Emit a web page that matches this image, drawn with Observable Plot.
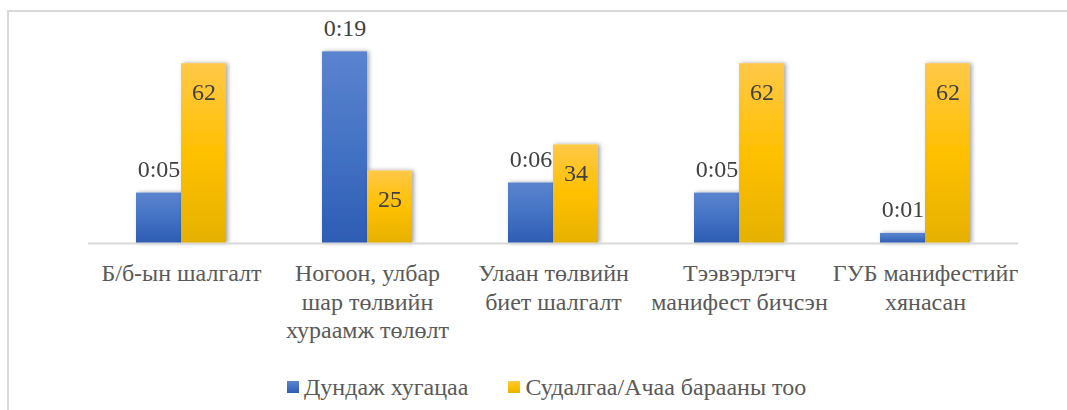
<!DOCTYPE html>
<html>
<head>
<meta charset="utf-8">
<script src="https://cdn.jsdelivr.net/npm/d3@7"></script>
<script src="https://cdn.jsdelivr.net/npm/@observablehq/plot@0.6"></script>
<style>
  html, body { margin: 0; padding: 0; background: #fff; overflow: hidden; }
  #wrap { position: relative; width: 1067px; height: 410px; background: #fff; }
  #frame { position: absolute; left: 7px; top: 10px; right: 0; bottom: -10px;
           border-top: 2px solid #d9d9d9; border-left: 2px solid #d9d9d9; pointer-events: none; }
  #chart { position: relative; height: 360px; }
  #legend { position: relative; height: 50px; box-sizing: border-box; padding-top: 4px; padding-left: 287px;
            display: flex; font-family: "Liberation Serif", Tinos, "Times New Roman", "DejaVu Serif", serif; font-size: 24px;
            line-height: 24px; color: #595959; }
  .item { display: flex; align-items: center; white-space: nowrap; }
  .sw { width: 12px; height: 12px; margin-right: 5px; }
</style>
</head>
<body>
<div id="wrap">
  <div id="frame"></div>
  <div id="chart"></div>
  <div id="legend"></div>
</div>
<script>
// ---- data ----
const categories = [
  "Б/б-ын шалгалт",
  "Ногоон, улбар шар төлвийн хураамж төлөлт",
  "Улаан төлвийн биет шалгалт",
  "Тээвэрлэгч манифест бичсэн",
  "ГУБ манифестийг хянасан"
];
const tickLabels = [
  "Б/б-ын шалгалт",
  "Ногоон, улбар\nшар төлвийн\nхураамж төлөлт",
  "Улаан төлвийн\nбиет шалгалт",
  "Тээвэрлэгч\nманифест бичсэн",
  "ГУБ манифестийг\nхянасан"
];
const seriesNames = ["Дундаж хугацаа", "Судалгаа/Ачаа барааны тоо"];
const avgTimeMinutes = [5, 19, 6, 5, 1];
const avgTimeLabels = ["0:05", "0:19", "0:06", "0:05", "0:01"];
const counts = [62, 25, 34, 62, 62];
const countLabels = ["62", "25", "34", "62", "62"];
const timeAxisMax = 23;   // secondary axis maximum (minutes)
const countAxisMax = 80;  // primary axis maximum

// dual axis: each series normalised to its own axis maximum
const timeRows = categories.map((c, i) => ({cat: c, series: seriesNames[0], norm: avgTimeMinutes[i] / timeAxisMax, label: avgTimeLabels[i]}));
const countRows = categories.map((c, i) => ({cat: c, series: seriesNames[1], norm: counts[i] / countAxisMax, label: countLabels[i]}));

const FONT = '"Liberation Serif", Tinos, "Times New Roman", "DejaVu Serif", serif';

const chart = Plot.plot({
  width: 1067,
  height: 360,
  marginTop: 11,
  marginBottom: 117,
  marginLeft: 88,
  marginRight: 49,
  style: {fontFamily: FONT, fontSize: "24px", color: "#595959", background: "transparent"},
  fx: {domain: categories, padding: 0, round: false, label: null},
  x: {domain: seriesNames, paddingInner: 0, paddingOuter: 1.0667, round: false, axis: null},
  y: {domain: [0, 1], axis: null},
  marks: [
    Plot.barY(timeRows, {fx: "cat", x: "series", y: "norm", fill: "url(#gradBlue)"}),
    Plot.barY(countRows, {fx: "cat", x: "series", y: "norm", fill: "url(#gradGold)"}),
    Plot.ruleY([0], {stroke: "#d9d9d9", strokeWidth: 2}),
    Plot.text(timeRows, {fx: "cat", x: "series", y: "norm", text: "label", lineAnchor: "top", dy: -33, fill: "#404040", fontSize: 24, fontFamily: FONT}),
    Plot.text(countRows, {fx: "cat", x: "series", y: "norm", text: "label", lineAnchor: "top", dy: 19, fill: "#404040", fontSize: 24, fontFamily: FONT}),
    Plot.axisFx({anchor: "bottom", tickSize: 0, tickPadding: 18, fontSize: 24, lineHeight: 1.17, fontFamily: FONT,
                 tickFormat: d => tickLabels[categories.indexOf(d)], label: null})
  ]
});

const svg = d3.select(chart);
svg.selectAll("text").style("font-family", FONT);
const defs = svg.insert("defs", ":first-child");
function grad(id, stops) {
  const g = defs.append("linearGradient").attr("id", id).attr("x1", 0).attr("y1", 0).attr("x2", 0).attr("y2", 1);
  stops.forEach(([o, c]) => g.append("stop").attr("offset", o).attr("stop-color", c));
}
grad("gradBlue", [[0, "#5b84ce"], [0.5, "#4472c4"], [1, "#2e5db4"]]);
grad("gradGold", [[0, "#ffc847"], [0.5, "#ffc000"], [1, "#e5b100"]]);
const f = defs.append("filter").attr("id", "shadow").attr("x", "-20%").attr("y", "-10%").attr("width", "150%").attr("height", "120%");
f.append("feDropShadow").attr("dx", 2).attr("dy", 0).attr("stdDeviation", 2).attr("flood-color", "#000").attr("flood-opacity", 0.35);
svg.selectAll("g[aria-label='bar']").attr("filter", "url(#shadow)");

document.getElementById("chart").appendChild(chart);

// legend
const legend = d3.select("#legend");
const swatches = ["linear-gradient(#5b84ce, #4472c4, #2e5db4)", "linear-gradient(#ffc847, #ffc000, #e5b100)"];
seriesNames.forEach((name, i) => {
  const it = legend.append("div").attr("class", "item").style("margin-left", i ? "40px" : "0");
  it.append("div").attr("class", "sw").style("background", swatches[i]);
  it.append("span").text(name);
});
</script>
</body>
</html>
